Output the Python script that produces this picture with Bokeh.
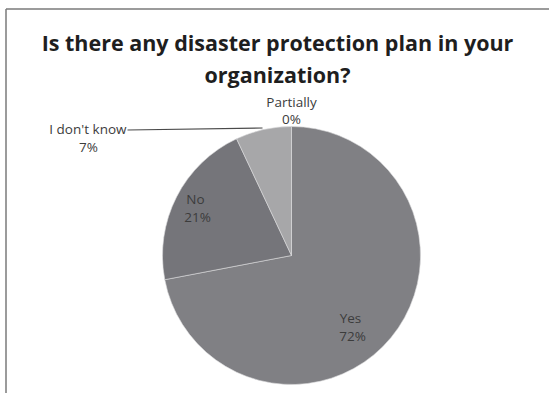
import math
from bokeh.plotting import figure
from bokeh.models import Range1d, ColumnDataSource
from bokeh.core.properties import value
from bokeh.embed import file_html
from bokeh.resources import INLINE

# ---- data ----
categories = ["Yes", "No", "I don't know", "Partially"]
percents = [72, 21, 7, 0]
colors = ["#808084", "#75757a", "#a7a7a9", "#b5b5b7"]
title_lines = ["Is there any disaster protection plan in your", "organization?"]

W, H = 549, 393
p = figure(width=W, height=H, output_backend="svg", toolbar_location=None,
           x_range=Range1d(0, W), y_range=Range1d(0, H),
           min_border=0, outline_line_color=None)
p.axis.visible = False
p.grid.visible = False
p.background_fill_color = "white"
p.border_fill_color = "white"

def Y(py):
    return H - py

# border (top and left)
p.line([5.5, 549], [Y(8.5), Y(8.5)], line_color="#7a7a7a", line_width=1.5)
p.line([5.5, 5.5], [Y(8.5), Y(393)], line_color="#7a7a7a", line_width=1.5)

# pie
cx, cy, r = 291, Y(255), 129
total = sum(percents)
starts, ends, cols = [], [], []
a = math.pi / 2
for v, c in zip(percents, colors):
    s = a
    a = a - v / total * 2 * math.pi
    if v > 0:
        starts.append(s)
        ends.append(a)
        cols.append(c)
src = ColumnDataSource(dict(start=starts, end=ends, color=cols))
p.wedge(x=cx, y=cy, radius=r, start_angle="start", end_angle="end",
        direction="clock", fill_color="color", line_color="#dcdcde",
        line_width=0.6, source=src)

# title
p.text(x=[277, 277], y=[Y(42), Y(74)], text=title_lines,
       text_font=value("Open Sans"), text_font_style="bold",
       text_font_size="21.5px", text_color="#1e1e1e",
       text_align="center", text_baseline="middle")

FS = "13.5px"
# data labels
lab_txt = [f"{categories[0]}", f"{percents[0]}%",
           f"{categories[1]}", f"{percents[1]}%",
           f"{categories[3]}", f"{percents[3]}%"]
lab_x = [350, 352, 195, 197, 291, 291]
lab_y = [Y(317), Y(335), Y(198), Y(216), Y(101), Y(118)]
p.text(x=lab_x, y=lab_y, text=lab_txt, text_font=value("Open Sans"),
       text_font_size=FS, text_color="#3c3c3c",
       text_align="center", text_baseline="middle")

# I don't know label with leader line
p.text(x=[126], y=[Y(128)], text=[categories[2]], text_font=value("Open Sans"),
       text_font_size=FS, text_color="#3c3c3c",
       text_align="right", text_baseline="middle")
p.text(x=[88], y=[Y(146)], text=[f"{percents[2]}%"], text_font=value("Open Sans"),
       text_font_size=FS, text_color="#3c3c3c",
       text_align="center", text_baseline="middle")
p.line([127, 262], [Y(129.5), Y(127.5)], line_color="#4a4a4a", line_width=1.2)

open("out.html", "w").write(file_html(p, INLINE))
